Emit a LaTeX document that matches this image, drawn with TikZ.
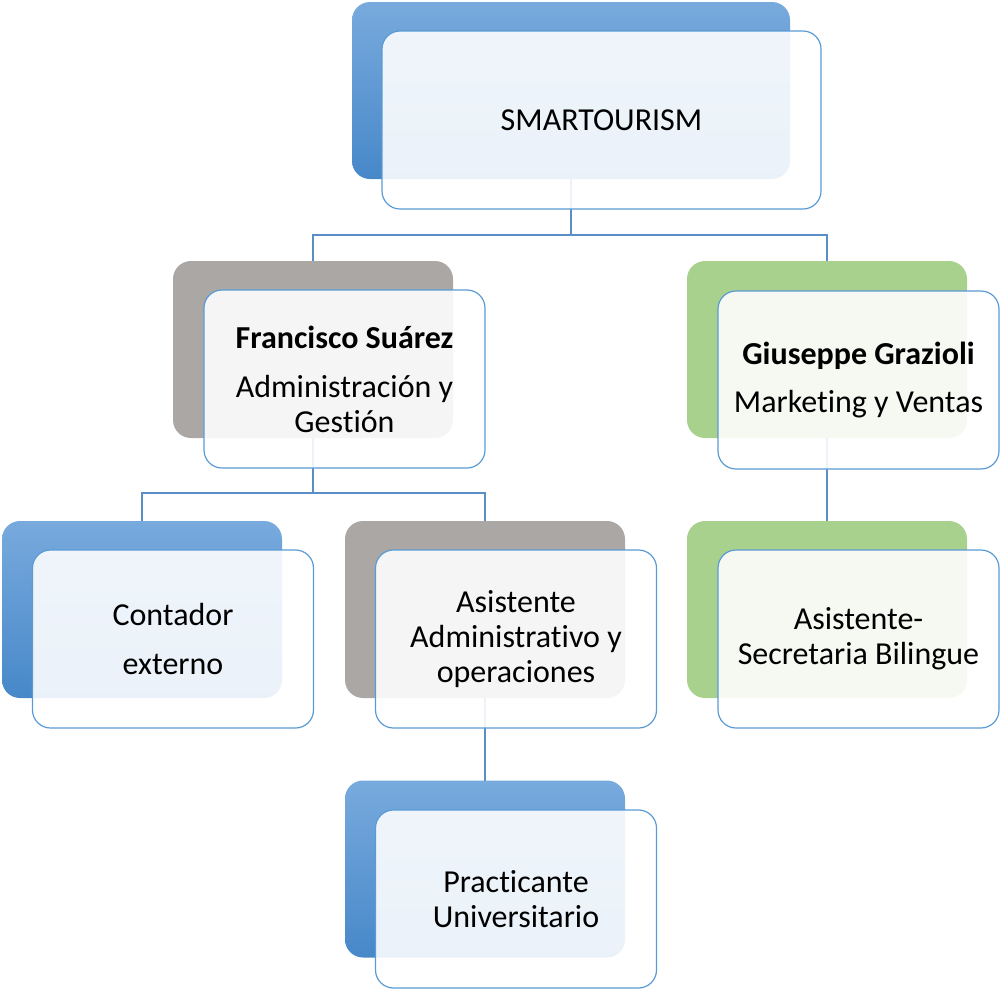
\documentclass[tikz,border=0pt]{standalone}
\usepackage{fontspec}
\setmainfont[Ligatures={NoCommon,NoContextual,NoRare},Contextuals=NoAlternate]{Carlito}
% keep "t" and "i" as separate glyphs
\newcommand{\tI}{t\kern0pt i}
\begin{document}
\begin{tikzpicture}[x=1pt,y=-1pt,
  every node/.style={inner sep=0pt, outer sep=0pt},
  backbox/.style={rounded corners=18pt, minimum width=280pt, minimum height=177pt},
  backblue/.style={backbox, top color=blueTop, bottom color=blueBot},
  backgray/.style={backbox, fill=grayBack},
  backgreen/.style={backbox, fill=greenBack},
  frontbox/.style={rounded corners=18pt, minimum width=281pt, minimum height=178pt,
    draw=frontEdge, line width=1.2pt, fill=white, fill opacity=0.89, text opacity=1,
    align=center, font=\fontsize{32}{35}\selectfont},
  conn/.style={draw=connBlue, line width=1.4pt}
]
\definecolor{blueTop}{HTML}{78AADD}
\definecolor{blueBot}{HTML}{4788C9}
\definecolor{grayBack}{HTML}{ABA7A5}
\definecolor{greenBack}{HTML}{A9D18E}
\definecolor{frontEdge}{HTML}{5B9BD5}
\definecolor{connBlue}{HTML}{5A8EC6}

\useasboundingbox (0,0) rectangle (1002,989);

% coloured back plates
\node[backblue, minimum width=438pt] (top) at (571,90.5) {};
\node[backgray]  (fs) at (313,349.5) {};
\node[backgreen] (gg) at (827,349.5) {};
\node[backblue]  (cb) at (142,609.5) {};
\node[backgray]  (aa) at (485,609.5) {};
\node[backgreen] (sb) at (827,609.5) {};
\node[backblue]  (pu) at (485,869) {};

% hierarchy connectors
\draw[conn] (top.south) -- ++(0,56) -| (fs.north);
\draw[conn] (top.south) -- ++(0,56) -| (gg.north);
\draw[conn] (fs.south) -- ++(0,55) -| (cb.north);
\draw[conn] (fs.south) -- ++(0,55) -| (aa.north);
\draw[conn] (gg.south) -- (sb.north);
\draw[conn] (aa.south) -- (pu.north);

% translucent front cards with the texts
\node[frontbox, minimum width=439pt] (topf) at (601.5,120) {SMARTOURISM};
\node[frontbox] (fsf) at (344.5,379) {\textbf{Francisco Suárez}\\[14pt]Administración y\\Ges\tI ón};
\node[frontbox] (ggf) at (858.5,380) {\textbf{Giuseppe Grazioli}\\[13pt]Marke\tI ng y Ventas};
\node[frontbox] (cbf) at (173,639) {Contador\\[14pt]externo};
\node[frontbox] (aaf) at (516,639) {Asistente\\Administra\tI vo y\\operaciones};
\node[frontbox] (sbf) at (858.5,639) {Asistente-\\Secretaria Bilingue};
\node[frontbox] (puf) at (516,899) {Practicante\\Universitario};
\end{tikzpicture}
\end{document}
